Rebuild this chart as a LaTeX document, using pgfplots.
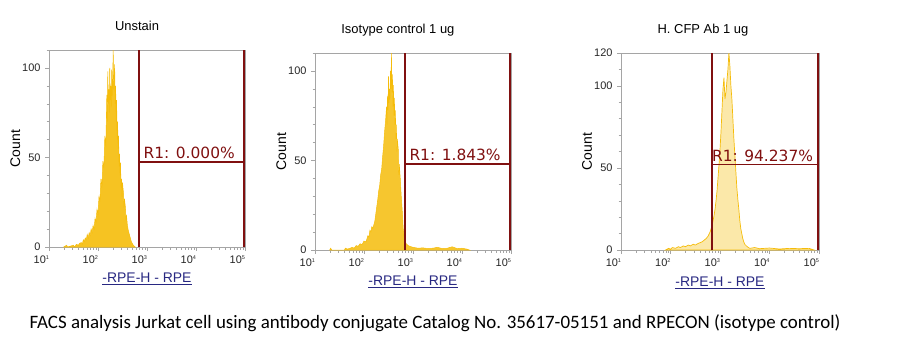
\documentclass[border=0pt]{standalone}
\usepackage{fontspec}
\setmainfont{Liberation Sans}
\newfontfamily\gatefont{DejaVu Sans}
\newfontfamily\capfont{Carlito}
\usepackage{pgfplots}
\pgfplotsset{compat=1.18}
\definecolor{histc}{RGB}{245,188,10}
\definecolor{gatec}{RGB}{128,16,16}
\definecolor{framec}{RGB}{165,165,165}
\definecolor{labc}{RGB}{40,40,130}

\newcommand{\dec}[1]{\mbox{10{\fontsize{5.5}{6}\selectfont\raisebox{4.5bp}{#1}}}}

\pgfplotsset{facs/.style={
  scale only axis, width=196bp, height=197bp,
  xmin=1, xmax=5, ymin=0,
  axis line style={framec},
  every tick/.style={framec},
  tick align=outside,
  major tick length=4bp, minor tick length=2.5bp,
  xtick pos=left, ytick pos=left,
  /pgf/number format/assume math mode=true,
  xtick={1,2,3,4,5},
  xticklabels={\dec{1},\dec{2},\dec{3},\dec{4},\dec{5}},
  minor xtick={1.301,1.477,1.602,1.699,1.778,1.845,1.903,1.954,
               2.301,2.477,2.602,2.699,2.778,2.845,2.903,2.954,
               3.301,3.477,3.602,3.699,3.778,3.845,3.903,3.954,
               4.301,4.477,4.602,4.699,4.778,4.845,4.903,4.954},
  ticklabel style={font=\fontsize{11}{12}\selectfont, text=black!85},
  xticklabel style={anchor=north east, xshift=3.5bp, yshift=-1bp},
  yticklabel style={xshift=-1bp},
  xlabel={\underline{-RPE-H - RPE}},
  xlabel style={font=\fontsize{14}{15}\selectfont, text=labc, anchor=center},
  ylabel={Count},
  ylabel style={font=\fontsize{14}{15}\selectfont, anchor=center, at={(axis description cs:-0.172,0.5)}},
  title style={font=\fontsize{13}{14}\selectfont, anchor=center, yshift=-6pt},
  gate/.style={gatec, line width=1.6bp},
}}

\begin{document}
\begin{tikzpicture}
\useasboundingbox (0,0) rectangle (901bp,-349bp);

% ---------- Panel 1 ----------
\begin{axis}[facs, at={(49bp,-247bp)}, anchor=south west,
  ymax=110, ytick={0,50,100}, minor ytick={10,20,...,110},
  title={Unstain}, title style={at={(axis description cs:0.449,1.122)}},
  xlabel style={at={(axis description cs:0.5,-0.16)}}]
\addplot[draw=histc, fill=histc, fill opacity=0.9, line width=0.5pt] table {
1.30 0
1.36 1
1.38 0
1.44 0.5
1.50 1
1.52 0
1.56 1.5
1.60 1
1.62 2
1.66 2.5
1.68 1.5
1.70 4
1.72 3
1.74 5
1.76 4
1.78 7
1.80 5
1.82 8
1.84 6.5
1.86 10
1.88 8
1.90 12
1.92 10
1.94 16
1.96 14
1.98 21
2.00 18
2.02 28
2.04 26
2.06 38
2.08 33
2.10 48
2.12 44
2.14 62
2.16 56
2.18 85
2.19 70
2.20 98
2.21 80
2.22 88
2.23 75
2.24 100
2.25 82
2.26 90
2.27 78
2.28 99
2.29 84
2.30 92
2.31 110
2.32 88
2.33 95
2.34 102
2.35 80
2.36 90
2.37 70
2.38 82
2.39 60
2.40 70
2.41 55
2.42 62
2.43 45
2.44 52
2.45 40
2.46 47
2.47 33
2.48 38
2.49 28
2.50 36
2.52 30
2.53 22
2.54 27
2.56 22
2.57 15
2.58 18
2.60 12
2.62 9
2.64 7
2.66 5
2.68 3
2.70 2
2.72 1
2.76 0
} \closedcycle;
\addplot[gate] coordinates {(2.84,0) (2.84,110)};
\addplot[gate] coordinates {(4.985,0) (4.985,110)};
\addplot[gate] coordinates {(2.84,47.5) (4.985,47.5)};
\node[anchor=south, text=gatec, font=\gatefont\fontsize{15.5}{16}\selectfont, inner sep=0pt, xshift=-2.5bp, yshift=3bp] at (axis cs:3.9125,47.5) {R1: 0.000\%};
\end{axis}

% ---------- Panel 2 ----------
\begin{axis}[facs, at={(315bp,-250bp)}, anchor=south west,
  ymax=110, ytick={0,50,100}, minor ytick={10,20,...,110},
  title={Isotype control 1 ug}, title style={at={(axis description cs:0.423,1.117)}},
  xlabel style={at={(axis description cs:0.5,-0.16)}}]
\addplot[draw=histc, fill=histc, fill opacity=0.85, line width=0.5pt] table {
1.30 0
1.32 1
1.34 0
1.60 0
1.62 1
1.66 0.5
1.72 1
1.76 1.5
1.80 1
1.84 2.5
1.88 2
1.92 3.5
1.96 3
2.00 5
2.04 4.5
2.08 8
2.10 7
2.12 11
2.14 10
2.16 13
2.18 12
2.20 14
2.22 16
2.24 20
2.26 24
2.28 28
2.30 33
2.32 36
2.34 42
2.36 45
2.38 52
2.40 58
2.42 66
2.44 72
2.46 80
2.47 70
2.48 86
2.49 78
2.50 97
2.51 82
2.52 90
2.53 84
2.54 100
2.55 90
2.56 110
2.57 88
2.58 98
2.59 80
2.60 92
2.61 75
2.62 85
2.63 70
2.64 78
2.65 62
2.66 70
2.67 55
2.68 62
2.70 56
2.71 42
2.72 48
2.74 40
2.76 30
2.78 22
2.80 12
2.82 7
2.84 5
2.86 3.5
2.90 2.5
2.94 2
3.00 1.5
3.10 1
3.20 1.2
3.30 0.8
3.40 1
3.50 1.5
3.60 0.8
3.70 1
3.80 1.8
3.90 0.8
4.00 1
4.10 0.5
4.15 0
} \closedcycle;
\addplot[gate] coordinates {(2.84,0) (2.84,110)};
\addplot[gate] coordinates {(4.98,0) (4.98,110)};
\addplot[gate] coordinates {(2.84,48) (4.98,48)};
\node[anchor=south, text=gatec, font=\gatefont\fontsize{15.5}{16}\selectfont, inner sep=0pt, xshift=-2.5bp, yshift=3bp] at (axis cs:3.91,48) {R1: 1.843\%};
\end{axis}

% ---------- Panel 3 ----------
\begin{axis}[facs, at={(621bp,-250bp)}, anchor=south west, width=198bp,
  ymax=120, ytick={0,50,100,120}, minor ytick={10,20,...,110},
  title={H. CFP Ab 1 ug}, title style={at={(axis description cs:0.414,1.117)}},
  xlabel style={at={(axis description cs:0.5,-0.165)}}]
\addplot[draw=histc, fill=histc!35, line width=0.7pt] table {
1.90 0
1.96 1
2.00 0.5
2.04 1.5
2.10 1
2.16 2
2.20 1.5
2.26 2.5
2.30 2
2.36 3
2.40 2.5
2.46 3.5
2.50 3
2.56 4
2.60 4.5
2.64 5
2.68 6
2.72 7
2.76 8.5
2.80 11
2.84 15
2.88 21
2.90 25
2.92 30
2.94 36
2.96 44
2.98 52
3.00 61
3.02 72
3.04 85
3.06 98
3.08 105
3.10 92
3.12 96
3.14 103
3.16 110
3.18 120
3.20 112
3.22 100
3.24 92
3.26 80
3.28 68
3.30 58
3.32 48
3.34 38
3.36 31
3.38 25
3.40 18
3.42 13
3.44 10
3.46 7
3.48 5
3.50 3.5
3.55 2
3.60 1
3.70 1.5
3.80 0.8
3.90 1
4.00 1.2
4.20 0.6
4.40 1
4.60 0.8
4.80 1
4.90 0
} \closedcycle;
\addplot[gate] coordinates {(2.84,0) (2.84,120)};
\addplot[gate] coordinates {(4.98,0) (4.98,120)};
\addplot[gate] coordinates {(2.84,52) (4.98,52)};
\node[anchor=south, text=gatec, font=\gatefont\fontsize{15.5}{16}\selectfont, inner sep=0pt, xshift=-2.5bp, yshift=3bp] at (axis cs:3.91,52) {R1: 94.237\%};
\end{axis}

\node[font=\capfont\fontsize{19}{20}\selectfont, anchor=center] at (435bp,-323bp)
  {FACS analysis Jurkat cell using antibody conjugate Catalog No. 35617-05151 and RPECON (isotype control)};
\end{tikzpicture}
\end{document}
